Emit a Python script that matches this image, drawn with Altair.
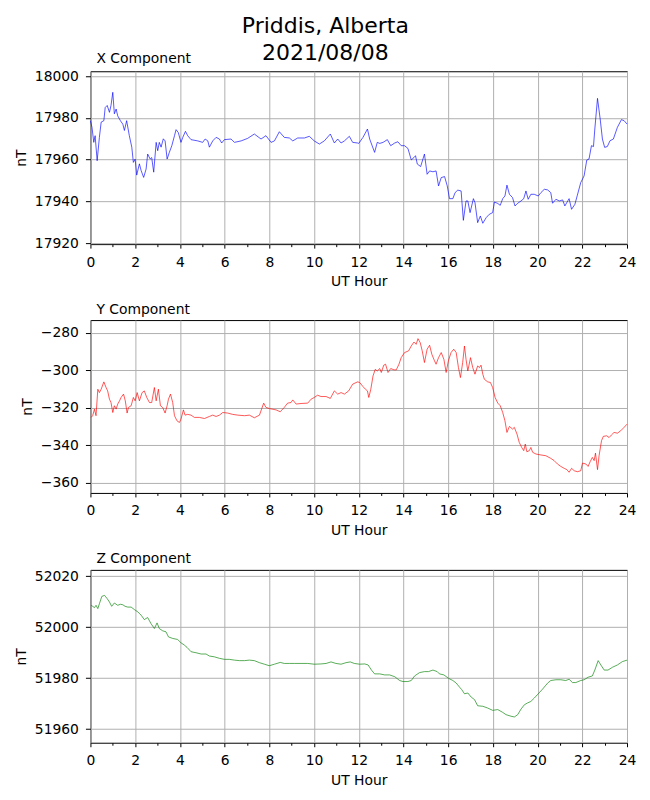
import altair as alt
import pandas as pd

FONT = "DejaVu Sans"

# ---------------- data ----------------
x_hours = [0.00, 0.07, 0.15, 0.21, 0.30, 0.40, 0.48, 0.60, 0.66, 0.75, 0.85, 0.92, 1.00, 1.07, 1.15, 1.22,
           1.34, 1.45, 1.52, 1.62, 1.74, 1.85, 1.92, 2.00, 2.07, 2.19, 2.27, 2.38, 2.49, 2.56, 2.67, 2.74,
           2.83, 2.94, 3.01, 3.08, 3.16, 3.26, 3.34, 3.43, 3.53, 3.64, 3.76, 3.83, 3.93, 4.05, 4.13, 4.25,
           4.35, 4.50, 4.80, 5.02, 5.13, 5.25, 5.32, 5.47, 5.62, 5.77, 5.87, 5.99, 6.29, 6.44, 6.74, 7.03,
           7.33, 7.63, 7.85, 8.08, 8.23, 8.45, 8.67, 8.90, 9.05, 9.27, 9.57, 9.79, 10.01, 10.24, 10.46,
           10.73, 10.91, 11.06, 11.21, 11.36, 11.58, 11.73, 11.95,
           12.00, 12.19, 12.39, 12.49, 12.71, 12.83, 12.94, 13.09, 13.28, 13.43, 13.61, 13.75, 13.90,
           14.05, 14.20, 14.35, 14.47, 14.54, 14.62, 14.77, 14.94, 15.06, 15.17, 15.32, 15.46, 15.57,
           15.69, 15.84, 15.96, 16.06, 16.21, 16.31, 16.43, 16.58, 16.68, 16.80, 16.88, 16.98, 17.13,
           17.20, 17.32, 17.44, 17.55, 17.70, 17.84, 17.99, 18.07, 18.22, 18.33, 18.44, 18.54, 18.63,
           18.74, 18.88, 18.99, 19.11, 19.26, 19.38, 19.48, 19.58, 19.70, 19.85, 20.03, 20.15, 20.30,
           20.45, 20.59, 20.67, 20.82, 20.97, 21.12, 21.22, 21.41, 21.52, 21.67, 21.78, 21.93, 22.08,
           22.20, 22.30, 22.41, 22.50, 22.56, 22.68, 22.80, 22.90, 23.00, 23.12, 23.24, 23.39, 23.57,
           23.75, 23.87, 24.00]
x_values = [17978.7, 17975.5, 17968.3, 17971.5, 17959.5, 17970.7, 17978.0, 17978.7, 17985.0, 17986.0,
            17982.7, 17986.0, 17992.3, 17982.0, 17984.3, 17981.0, 17978.7, 17977.0, 17974.0, 17978.7,
            17971.5, 17966.0, 17958.7, 17960.3, 17952.6, 17958.0, 17954.7, 17951.5, 17955.5, 17962.7,
            17960.3, 17961.0, 17954.0, 17968.3, 17964.3, 17968.3, 17966.0, 17970.0, 17969.0, 17960.3,
            17963.5, 17966.7, 17971.5, 17974.4, 17973.0, 17968.3, 17970.7, 17973.6, 17971.5, 17969.6,
            17969.0, 17968.3, 17969.9, 17969.0, 17966.0, 17969.0, 17970.7, 17969.9, 17968.0, 17969.6,
            17969.9, 17968.3, 17969.0, 17970.2, 17972.3, 17969.9, 17971.5, 17968.3, 17969.0, 17973.4,
            17970.7, 17970.4, 17969.0, 17970.4, 17970.4, 17971.2, 17969.0, 17967.5, 17969.0, 17972.3,
            17968.0, 17969.9, 17968.0, 17969.0, 17971.2, 17968.3, 17968.0,
            17967.8, 17970.7, 17974.7, 17969.9, 17963.5, 17968.3, 17967.8, 17968.3, 17969.6, 17966.7,
            17968.0, 17968.6, 17966.7, 17966.7, 17965.4, 17959.9, 17961.0, 17961.9, 17957.9, 17956.7,
            17962.7, 17953.0, 17954.6, 17954.2, 17954.6, 17947.4, 17951.4, 17951.9, 17947.4, 17941.3,
            17941.3, 17944.2, 17945.4, 17945.0, 17930.9, 17940.2, 17940.2, 17934.6, 17941.3, 17939.4,
            17929.8, 17933.0, 17929.5, 17932.2, 17933.8, 17934.6, 17939.7, 17939.0, 17938.1, 17941.3,
            17942.6, 17947.8, 17943.4, 17941.8, 17937.8, 17939.1, 17940.2, 17941.3, 17945.0, 17941.0,
            17943.4, 17943.4, 17942.6, 17944.2, 17945.8, 17945.5, 17944.2, 17939.1, 17941.0, 17940.2,
            17940.7, 17937.8, 17941.3, 17936.2, 17938.6, 17943.0, 17949.0, 17952.2, 17959.8, 17960.3,
            17966.7, 17966.3, 17974.7, 17989.4, 17979.5, 17969.9, 17965.9, 17966.3, 17969.1, 17969.9,
            17975.5, 17979.2, 17978.7, 17977.1]

y_hours = [0.03, 0.10, 0.18, 0.25, 0.33, 0.40, 0.48, 0.60, 0.70, 0.77, 0.85, 0.92, 1.00, 1.07, 1.15, 1.22,
           1.30, 1.37, 1.48, 1.56, 1.64, 1.70, 1.82, 1.92, 2.00, 2.09, 2.19, 2.31, 2.41, 2.52, 2.64, 2.74,
           2.86, 2.94, 3.04, 3.13, 3.23, 3.34, 3.43, 3.49, 3.58, 3.68, 3.76, 3.87, 3.98, 4.05, 4.16, 4.23,
           4.35, 4.50, 4.65, 4.87, 5.10, 5.32, 5.47, 5.62, 5.77, 5.92, 6.14, 6.36, 6.59, 6.89, 7.11, 7.33,
           7.56, 7.75, 7.85, 8.00, 8.30, 8.49, 8.67, 8.82, 8.97, 9.05, 9.20, 9.42, 9.72, 9.87, 10.01, 10.16,
           10.31, 10.54, 10.73, 10.91, 11.06, 11.21, 11.36, 11.55, 11.73, 11.95,
           12.04, 12.19, 12.30, 12.39, 12.45, 12.54, 12.64, 12.74, 12.83, 12.94, 13.01, 13.12, 13.20,
           13.31, 13.43, 13.58, 13.68, 13.80, 13.90, 14.05, 14.23, 14.35, 14.47, 14.57, 14.65, 14.75,
           14.84, 14.94, 15.06, 15.17, 15.27, 15.39, 15.46, 15.57, 15.69, 15.81, 15.91, 16.01, 16.13,
           16.25, 16.36, 16.46, 16.55, 16.65, 16.73, 16.80, 16.88, 17.00, 17.10, 17.20, 17.32, 17.40,
           17.47, 17.55, 17.62, 17.77, 17.89, 17.99, 18.10, 18.22, 18.33, 18.44, 18.54, 18.63, 18.74,
           18.88, 18.96, 19.08, 19.18, 19.29, 19.38, 19.45, 19.52, 19.63, 19.70, 19.78, 19.93, 20.15,
           20.37, 20.59, 20.74, 20.89, 21.04, 21.19, 21.31, 21.41, 21.52, 21.64, 21.78, 21.93, 22.01,
           22.16, 22.26, 22.35, 22.45, 22.53, 22.59, 22.68, 22.75, 22.86, 22.94, 23.09, 23.20, 23.30,
           23.42, 23.57, 23.72, 23.87, 24.00]
y_values = [-325.1, -324.2, -320.7, -324.2, -310.1, -311.9, -310.1, -306.2, -309.2, -311.0, -315.4, -317.2,
            -322.5, -318.9, -320.7, -318.0, -316.3, -314.5, -312.7, -316.3, -322.8, -319.8, -318.9, -314.5,
            -316.3, -311.9, -316.3, -311.9, -311.0, -314.5, -317.2, -317.2, -309.2, -316.3, -310.1, -318.9,
            -319.8, -322.8, -318.9, -315.4, -312.7, -317.2, -324.2, -326.9, -327.8, -326.0, -321.1, -323.9,
            -323.5, -323.9, -325.1, -325.1, -325.7, -324.6, -323.9, -324.6, -323.9, -322.5, -322.8, -323.5,
            -323.9, -324.2, -323.9, -325.3, -323.9, -317.5, -319.8, -320.4, -321.1, -322.1, -319.8, -317.5,
            -317.2, -315.8, -318.0, -317.7, -317.5, -315.4, -314.5, -313.3, -314.0, -314.0, -315.0, -311.0,
            -312.7, -311.9, -312.7, -311.0, -307.4, -306.2,
            -306.5, -308.7, -310.1, -311.0, -314.5, -310.1, -303.0, -299.5, -300.4, -299.1, -301.2, -297.3,
            -296.8, -301.2, -299.1, -299.8, -299.8, -296.8, -293.3, -290.6, -289.7, -287.1, -285.0, -286.2,
            -283.2, -285.3, -289.7, -295.9, -288.8, -286.7, -291.5, -295.0, -296.8, -293.3, -290.6, -294.2,
            -301.2, -295.0, -290.6, -288.8, -290.6, -298.6, -303.9, -295.9, -287.1, -294.2, -300.4, -293.3,
            -298.6, -302.1, -297.7, -298.6, -297.3, -302.1, -304.8, -306.2, -306.5, -309.2, -314.5, -317.5,
            -318.9, -322.5, -326.9, -333.1, -329.9, -331.3, -330.4, -334.0, -338.4, -341.1, -342.8, -339.3,
            -343.4, -342.8, -341.1, -343.7, -344.6, -345.1, -345.5, -346.9, -348.1, -349.9, -351.2, -352.2,
            -352.9, -354.3, -352.2, -353.5, -354.0, -353.5, -349.4, -349.9, -351.2, -348.7, -346.4, -348.1,
            -344.1, -352.9, -345.5, -337.5, -335.2, -334.9, -335.8, -334.5, -333.1, -333.5, -332.2, -330.4,
            -328.7]

z_hours = [0.03, 0.10, 0.18, 0.25, 0.33, 0.40, 0.51, 0.63, 0.75, 0.85, 0.95, 1.07, 1.22, 1.34, 1.45, 1.55,
           1.67, 1.82, 1.97, 2.12, 2.27, 2.41, 2.56, 2.71, 2.86, 2.98, 3.08, 3.23, 3.38, 3.49, 3.68, 3.90,
           4.05, 4.20, 4.32, 4.50, 4.72, 4.95, 5.17, 5.32, 5.54, 5.77, 5.99, 6.21, 6.44, 6.66, 6.89, 7.11,
           7.33, 7.56, 7.78, 8.00, 8.23, 8.49, 8.67, 8.90, 9.12, 9.42, 9.72, 10.01, 10.31, 10.54, 10.76,
           10.98, 11.21, 11.43, 11.62, 11.80,
           12.04, 12.27, 12.42, 12.57, 12.71, 12.94, 13.16, 13.38, 13.61, 13.83, 13.98, 14.20, 14.35,
           14.50, 14.72, 14.94, 15.12, 15.32, 15.51, 15.61, 15.81, 16.01, 16.21, 16.36, 16.51, 16.61,
           16.73, 16.88, 17.03, 17.18, 17.32, 17.55, 17.77, 17.99, 18.22, 18.44, 18.59, 18.81, 18.96,
           19.11, 19.26, 19.41, 19.55, 19.70, 19.85, 20.03, 20.22, 20.45, 20.59, 20.82, 21.04, 21.26,
           21.41, 21.56, 21.71, 21.93, 22.08, 22.26, 22.45, 22.56, 22.71, 22.83, 22.98, 23.15, 23.35,
           23.57, 23.79, 24.00]
z_values = [52008.6, 52008.2, 52007.7, 52008.6, 52007.3, 52009.2, 52012.1, 52012.5, 52011.2, 52009.9,
            52008.2, 52009.5, 52008.6, 52009.0, 52008.8, 52008.2, 52007.9, 52007.9, 52006.9, 52006.0,
            52004.7, 52003.0, 52003.8, 52001.4, 51999.5, 52001.7, 51999.5, 51998.6, 51998.2, 51996.2,
            51995.6, 51995.2, 51993.9, 51993.0, 51992.1, 51990.4, 51990.0, 51989.5, 51989.5, 51988.7,
            51988.4, 51987.8, 51987.4, 51987.4, 51987.1, 51986.9, 51986.9, 51987.1, 51986.9, 51986.1,
            51985.5, 51984.9, 51985.5, 51986.2, 51985.8, 51985.8, 51985.8, 51985.8, 51985.8, 51985.5,
            51985.6, 51985.8, 51986.4, 51985.8, 51985.5, 51986.1, 51986.4, 51985.8,
            51985.5, 51985.6, 51985.2, 51983.2, 51981.7, 51981.7, 51981.3, 51981.3, 51980.6, 51979.1,
            51978.7, 51978.7, 51979.1, 51980.9, 51982.2, 51982.6, 51982.6, 51983.2, 51982.6, 51981.7,
            51981.3, 51980.0, 51979.1, 51978.1, 51976.5, 51975.5, 51973.9, 51974.2, 51972.6, 51971.6,
            51969.2, 51969.0, 51968.3, 51967.4, 51967.7, 51966.6, 51965.7, 51965.1, 51964.8, 51965.7,
            51967.9, 51969.6, 51970.3, 51970.9, 51972.2, 51973.9, 51975.7, 51978.1, 51979.1, 51979.4,
            51979.4, 51979.1, 51979.6, 51978.3, 51978.3, 51979.1, 51979.4, 51980.4, 51980.9, 51983.2,
            51986.9, 51985.2, 51983.2, 51983.2, 51984.3, 51985.2, 51986.5, 51987.1]

x_ticks = [17920, 17940, 17960, 17980, 18000]
y_ticks = [-360, -340, -320, -300, -280]
z_ticks = [51960, 51980, 52000, 52020]
hour_ticks = list(range(0, 25))

EVEN = "datum.value % 2 === 0"


def panel(hours, values, color, title, ydomain, yticks):
    df = pd.DataFrame({"hour": hours, "nT": values})
    return (
        alt.Chart(
            df,
            title=alt.TitleParams(
                title, anchor="start", frame="group", fontSize=13.9, fontWeight="normal", font=FONT,
                color="black", dx=6, offset=-8, baseline="alphabetic",
            ),
        )
        .mark_line(color=color, strokeWidth=0.65)
        .encode(
            x=alt.X(
                "hour:Q",
                scale=alt.Scale(domain=[0, 24], nice=False, zero=False),
                axis=alt.Axis(
                    title="UT Hour",
                    values=hour_ticks,
                    format="d",
                    labelExpr=f"{EVEN} ? datum.label : ''",
                    labelOverlap=False,
                    labelFlush=False,
                    tickSize={"condition": {"test": EVEN, "value": 4}, "value": 2.5},
                    gridOpacity={"condition": {"test": EVEN, "value": 1}, "value": 0},
                ),
            ),
            y=alt.Y(
                "nT:Q",
                scale=alt.Scale(domain=ydomain, nice=False, zero=False),
                axis=alt.Axis(title="nT", values=yticks, format="d", labelOverlap=False),
            ),
        )
        .properties(width=537, height=173)
    )


p1 = panel(x_hours, x_values, "#0000ff", "X Component", [17919.5, 18002.4], x_ticks)
p2 = panel(y_hours, y_values, "#ff0000", "Y Component", [-365.3, -273.3], y_ticks)
p3 = panel(z_hours, z_values, "#008000", "Z Component", [51954.7, 52022.5], z_ticks)

chart = (
    alt.vconcat(
        p1, p2, p3,
        spacing=13,
        title=alt.TitleParams(
            ["Priddis, Alberta", "2021/08/08"], fontSize=22, lineHeight=26.7, anchor="middle",
            font=FONT, fontWeight="normal", color="black", offset=-12.7, baseline="top",
        ),
    )
    .properties(padding={"left": 5.5, "top": 6, "right": 5, "bottom": 5})
    .configure_view(stroke="black", strokeWidth=1)
    .configure_axis(
        domain=False,
        grid=True,
        gridColor="#b0b0b0",
        gridWidth=1,
        tickColor="black",
        tickWidth=1,
        labelFont=FONT,
        labelFontSize=13.9,
        labelColor="black",
        labelPadding=7,
        titleFont=FONT,
        titleFontSize=13.9,
        titleFontWeight="normal",
        titleColor="black",
        titlePadding=5.5,
    )
)

chart.save("out.html", embed_options={"renderer": "svg", "actions": False})
